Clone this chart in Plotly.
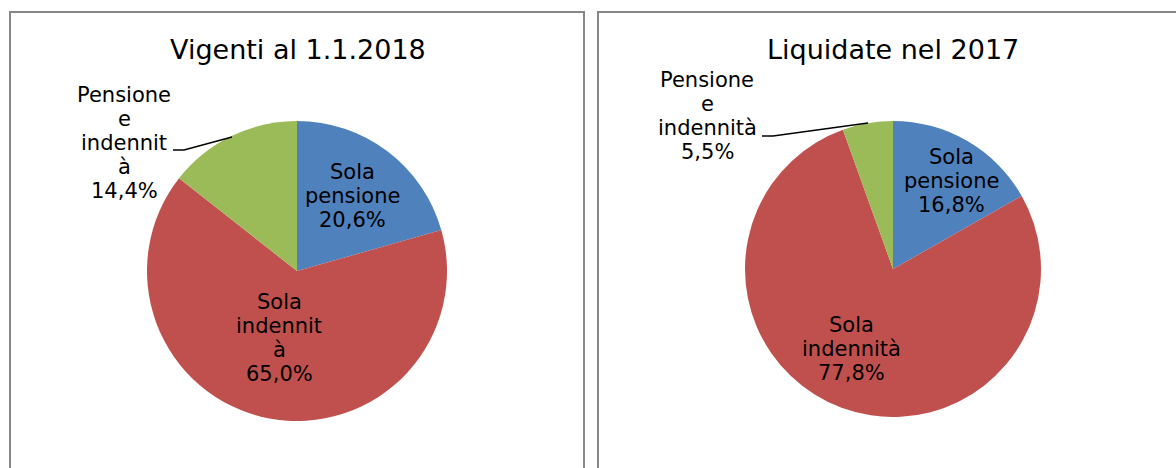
import plotly.graph_objects as go

# data
categories = ["Sola pensione", "Sola indennità", "Pensione e indennità"]
vigenti_2018 = [20.6, 65.0, 14.4]
liquidate_2017 = [16.8, 77.8, 5.5]
titles = ["Vigenti al 1.1.2018", "Liquidate nel 2017"]
colors = ["#4F81BD", "#C0504D", "#9BBB59"]

# wrapped label lines, as the reference shows them
wrap_2018 = [["Sola", "pensione"], ["Sola", "indennit", "à"], ["Pensione", "e", "indennit", "à"]]
wrap_2017 = [["Sola", "pensione"], ["Sola", "indennità"], ["Pensione", "e", "indennità"]]

W, H = 1176, 468
FONT = "DejaVu Sans"
LINE_H = 24


def px(x):
    return x / W


def py(y):
    return 1 - y / H


def pct(v):
    return f"{v:.1f}".replace(".", ",") + "%"


fig = go.Figure()

pies = [
    # values, center x, center y, radius
    (vigenti_2018, 297, 271, 150),
    (liquidate_2017, 893, 269, 148),
]
for vals, cx, cy, r in pies:
    fig.add_trace(go.Pie(
        labels=categories,
        values=vals,
        sort=False,
        direction="clockwise",
        rotation=0,
        marker=dict(colors=colors, line=dict(width=0)),
        textinfo="none",
        hoverinfo="label+percent",
        showlegend=False,
        domain=dict(x=[px(cx - r), px(cx + r)], y=[py(cy + r), py(cy - r)]),
    ))

annotations = []
# panel titles
for t, cx in zip(titles, [298, 893]):
    annotations.append(dict(text=t, x=px(cx), y=py(50), xref="paper", yref="paper",
                            xanchor="center", yanchor="middle", showarrow=False,
                            font=dict(family=FONT, size=27, color="#000000")))

# slice labels: (label lines, value, center x, center y)
label_pos = [
    (wrap_2018[0], vigenti_2018[0], 353, 196),
    (wrap_2018[1], vigenti_2018[1], 279, 338),
    (wrap_2018[2], vigenti_2018[2], 124, 143),
    (wrap_2017[0], liquidate_2017[0], 951, 181),
    (wrap_2017[1], liquidate_2017[1], 851, 349),
    (wrap_2017[2], liquidate_2017[2], 707, 116),
]
for lines, v, lx, ly in label_pos:
    rows = lines + [pct(v)]
    n = len(rows)
    for i, row in enumerate(rows):
        yy = ly + (i - (n - 1) / 2) * LINE_H
        annotations.append(dict(text=row, x=px(lx), y=py(yy), xref="paper", yref="paper",
                                xanchor="center", yanchor="middle", showarrow=False,
                                font=dict(family=FONT, size=21, color="#000000")))

shapes = [
    # chart area borders
    dict(type="rect", xref="paper", yref="paper", x0=px(10), x1=px(584), y0=py(500), y1=py(12),
         line=dict(color="#878787", width=2), fillcolor="rgba(0,0,0,0)"),
    dict(type="rect", xref="paper", yref="paper", x0=px(598), x1=px(1210), y0=py(500), y1=py(12),
         line=dict(color="#878787", width=2), fillcolor="rgba(0,0,0,0)"),
    # leader lines
    dict(type="path", xref="paper", yref="paper",
         path=f"M {px(173)},{py(150)} L {px(184)},{py(150)} L {px(232)},{py(137)}",
         line=dict(color="#000000", width=1.5)),
    dict(type="path", xref="paper", yref="paper",
         path=f"M {px(762)},{py(136)} L {px(773)},{py(136)} L {px(868)},{py(123)}",
         line=dict(color="#000000", width=1.5)),
]

fig.update_layout(
    width=W, height=H,
    margin=dict(l=0, r=0, t=0, b=0),
    paper_bgcolor="white",
    plot_bgcolor="white",
    annotations=annotations,
    shapes=shapes,
    font=dict(family=FONT),
)

# drop the default page margin so the figure sits at the window origin
fig.write_html("out.html", config={"displayModeBar": False},
               post_script="document.body.style.margin = '0';")
